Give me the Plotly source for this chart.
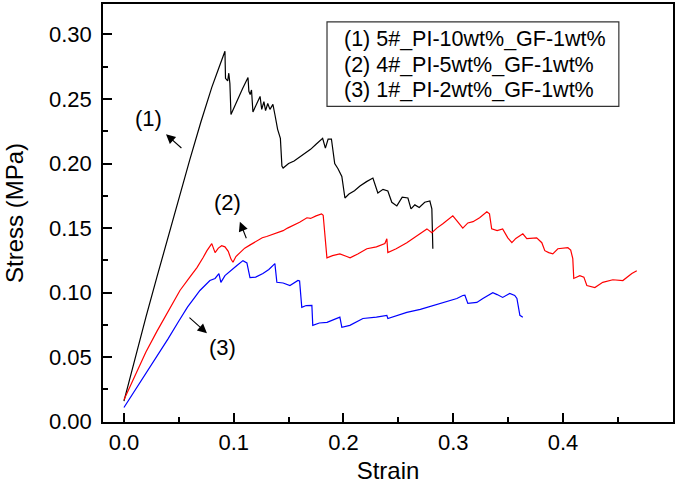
import plotly.graph_objects as go

# ---------------- data ----------------
labels = ["(1) 5#_PI-10wt%_GF-1wt%", "(2) 4#_PI-5wt%_GF-1wt%", "(3) 1#_PI-2wt%_GF-1wt%"]

strain_1 = [0.000, 0.010, 0.020, 0.030, 0.040, 0.050, 0.060, 0.070, 0.080, 0.086,
            0.092, 0.0925, 0.0945, 0.0955, 0.0965, 0.0975, 0.103, 0.108, 0.113, 0.1138,
            0.1150, 0.1162, 0.1175, 0.1210, 0.1240, 0.1255, 0.1275, 0.1290, 0.1310, 0.1330,
            0.1357, 0.1375, 0.1400, 0.1425, 0.1439, 0.1450, 0.1500, 0.1550, 0.1600, 0.1650,
            0.1700, 0.1750, 0.1810, 0.1835, 0.1860, 0.1890, 0.1920, 0.1950, 0.1985, 0.2013,
            0.2050, 0.2100, 0.2150, 0.2210, 0.2268, 0.2313, 0.2360, 0.2404, 0.2440, 0.2486,
            0.2535, 0.2587, 0.2615, 0.2650, 0.2690, 0.2740, 0.2787, 0.2805, 0.2814]
stress_1 = [0.016, 0.049, 0.081, 0.112, 0.143, 0.173, 0.203, 0.232, 0.259, 0.273,
            0.287, 0.266, 0.264, 0.270, 0.262, 0.238, 0.249, 0.258, 0.2666, 0.2560,
            0.2535, 0.2570, 0.2400, 0.2470, 0.2520, 0.2420, 0.2480, 0.2410, 0.2465, 0.2420,
            0.2458, 0.2380, 0.2265, 0.2196, 0.1980, 0.1965, 0.2000, 0.2020, 0.2050, 0.2080,
            0.2110, 0.2150, 0.2196, 0.2120, 0.2190, 0.2190, 0.2000, 0.1960, 0.1900, 0.1733,
            0.1764, 0.1790, 0.1826, 0.1860, 0.1888, 0.1772, 0.1800, 0.1787, 0.1700, 0.1672,
            0.1740, 0.1733, 0.1649, 0.1680, 0.1660, 0.1700, 0.1710, 0.1650, 0.1340]

strain_2 = [0.000, 0.010, 0.020, 0.030, 0.040, 0.051, 0.060, 0.0665, 0.0720, 0.0756,
            0.0800, 0.0830, 0.0860, 0.0890, 0.0920, 0.0950, 0.0975, 0.0993, 0.1020, 0.1056,
            0.1100, 0.1150, 0.1210, 0.1260, 0.1300, 0.1350, 0.1390, 0.1450, 0.1490, 0.1540,
            0.1600, 0.1667, 0.1700, 0.1750, 0.1800, 0.1815, 0.1849, 0.1900, 0.1967, 0.2030,
            0.2060, 0.2130, 0.2213, 0.2300, 0.2377, 0.2395, 0.2404, 0.2480, 0.2577, 0.2650,
            0.2760, 0.2805, 0.2850, 0.2905, 0.2960, 0.2996, 0.3030, 0.3087, 0.3133, 0.3180,
            0.3240, 0.3306, 0.3330, 0.3350, 0.3400, 0.3450, 0.3497, 0.3534, 0.3570, 0.3634,
            0.3670, 0.3760, 0.3807, 0.3834, 0.3870, 0.3907, 0.3953, 0.4044, 0.4070, 0.4089,
            0.4098, 0.4153, 0.4190, 0.4217, 0.4290, 0.4362, 0.4454, 0.4545, 0.4627, 0.4672]
stress_2 = [0.017, 0.036, 0.054, 0.070, 0.085, 0.1017, 0.112, 0.1194, 0.127, 0.1325,
            0.138, 0.131, 0.1345, 0.1364, 0.1355, 0.132, 0.126, 0.1235, 0.128, 0.131,
            0.1345, 0.137, 0.140, 0.1425, 0.1435, 0.145, 0.1464, 0.148, 0.150, 0.1518,
            0.1545, 0.158, 0.1575, 0.1595, 0.161, 0.160, 0.127, 0.1287, 0.130, 0.128,
            0.127, 0.130, 0.134, 0.1355, 0.138, 0.1418, 0.131, 0.134, 0.1387, 0.143,
            0.1494, 0.1464, 0.150, 0.1533, 0.157, 0.1595, 0.156, 0.150, 0.154, 0.155,
            0.158, 0.1626, 0.161, 0.1494, 0.148, 0.1494, 0.1425, 0.1387, 0.142, 0.1456,
            0.1418, 0.1425, 0.1387, 0.1325, 0.131, 0.130, 0.134, 0.1348, 0.133, 0.1263,
            0.111, 0.1132, 0.112, 0.1055, 0.104, 0.108, 0.110, 0.1094, 0.1148, 0.117]

strain_3 = [0.000, 0.010, 0.020, 0.030, 0.040, 0.050, 0.058, 0.065, 0.0692, 0.0783,
            0.0830, 0.0865, 0.0883, 0.0920, 0.0970, 0.1029, 0.1084, 0.1100, 0.1120, 0.1148,
            0.1200, 0.1266, 0.1320, 0.1375, 0.1393, 0.1450, 0.1512, 0.1585, 0.1600, 0.1620,
            0.1660, 0.1712, 0.1720, 0.1780, 0.1850, 0.1967, 0.1985, 0.2058, 0.2177, 0.2300,
            0.2395, 0.2404, 0.2577, 0.2700, 0.2814, 0.2969, 0.3033, 0.3087, 0.3106, 0.3133,
            0.3215, 0.3270, 0.3360, 0.3400, 0.3450, 0.3515, 0.3560, 0.3580, 0.3607, 0.3634]
stress_3 = [0.011, 0.024, 0.037, 0.050, 0.064, 0.078, 0.089, 0.097, 0.1017, 0.1094,
            0.111, 0.1148, 0.108, 0.1132, 0.117, 0.121, 0.1248, 0.124, 0.123, 0.1117,
            0.112, 0.1148, 0.118, 0.1225, 0.108, 0.1075, 0.1055, 0.1094, 0.109, 0.0886,
            0.090, 0.0901, 0.0747, 0.0765, 0.077, 0.081, 0.0732, 0.0747, 0.080, 0.081,
            0.0824, 0.080, 0.0847, 0.087, 0.090, 0.094, 0.0955, 0.0978, 0.098, 0.0917,
            0.0924, 0.0955, 0.100, 0.0985, 0.0963, 0.0994, 0.0978, 0.0955, 0.0824, 0.081]

x_ticks = [0.0, 0.1, 0.2, 0.3, 0.4, 0.5]
y_ticks = [0.00, 0.05, 0.10, 0.15, 0.20, 0.25, 0.30]

curve_tags = ["(1)", "(2)", "(3)"]
tag_pos_x = [0.0228, 0.0947, 0.0902]
tag_pos_y = [0.235, 0.1695, 0.0578]
arrow_head_x = [0.0383, 0.1056, 0.0756]
arrow_head_y = [0.2227, 0.1549, 0.0686]
arrow_tail_x = [0.0537, 0.1120, 0.0583]
arrow_tail_y = [0.2110, 0.1410, 0.0817]

colors = ["#000000", "#ff0000", "#0000ff"]

FONT = "Liberation Sans, Arial, Helvetica, sans-serif"

fig = go.Figure()
for xs, ys, c, name in zip([strain_1, strain_2, strain_3], [stress_1, stress_2, stress_3], colors, labels):
    fig.add_trace(go.Scatter(x=xs, y=ys, mode="lines", name=name,
                             line=dict(color=c, width=1.2), showlegend=False))

anns = []
for t, tx, ty, hx, hy, sx, sy in zip(curve_tags, tag_pos_x, tag_pos_y, arrow_head_x, arrow_head_y,
                                      arrow_tail_x, arrow_tail_y):
    anns.append(dict(x=tx, y=ty, xref="x", yref="y", text=t, showarrow=False,
                     font=dict(family=FONT, size=22, color="black")))
    anns.append(dict(x=hx, y=hy, xref="x", yref="y", ax=sx, ay=sy, axref="x", ayref="y",
                     text="", showarrow=True, arrowhead=2, arrowsize=1.7, arrowwidth=1.1,
                     arrowcolor="black"))

# legend-like box with text lines
legend_y = [0.916, 0.854, 0.7945]
for lab, ly in zip(labels, legend_y):
    anns.append(dict(x=0.42, y=ly, xref="paper", yref="paper", text=lab, showarrow=False,
                     xanchor="left", yanchor="middle",
                     font=dict(family=FONT, size=21.5, color="black")))

fig.add_shape(type="rect", xref="paper", yref="paper", x0=0.393, x1=0.905, y0=0.755, y1=0.957,
              line=dict(color="#333333", width=1.2), fillcolor="rgba(0,0,0,0)")

fig.update_layout(
    width=685, height=488,
    margin=dict(l=103, r=12, t=2, b=66),
    paper_bgcolor="white", plot_bgcolor="white",
    font=dict(family=FONT, size=22, color="black"),
    annotations=anns,
)
fig.update_xaxes(
    range=[-0.0191, 0.5002], tickvals=x_ticks, ticktext=[f"{v:.1f}" for v in x_ticks],
    ticks="inside", ticklen=9, tickwidth=1.5, tickcolor="black",
    minor=dict(ticks="inside", ticklen=5, tickwidth=1.5, tickcolor="black", dtick=0.05, tick0=0),
    showline=True, linewidth=1.5, linecolor="black", mirror=True,
    showgrid=False, zeroline=False,
    tickfont=dict(family=FONT, size=22, color="black"),
    title=dict(text="Strain", font=dict(family=FONT, size=24, color="black"), standoff=8),
)
fig.update_yaxes(
    range=[-0.0002, 0.3236], tickvals=y_ticks, ticktext=[f"{v:.2f}" for v in y_ticks],
    ticks="inside", ticklen=9, tickwidth=1.5, tickcolor="black",
    minor=dict(ticks="inside", ticklen=5, tickwidth=1.5, tickcolor="black", dtick=0.025, tick0=0),
    showline=True, linewidth=1.5, linecolor="black", mirror=True,
    showgrid=False, zeroline=False, ticklabelstandoff=5,
    tickfont=dict(family=FONT, size=22, color="black"),
    title=dict(text="Stress (MPa)", font=dict(family=FONT, size=24, color="black"), standoff=19),
)

fig.write_html("out.html", config={"displayModeBar": False},
               post_script="document.body.style.margin='0px';")
